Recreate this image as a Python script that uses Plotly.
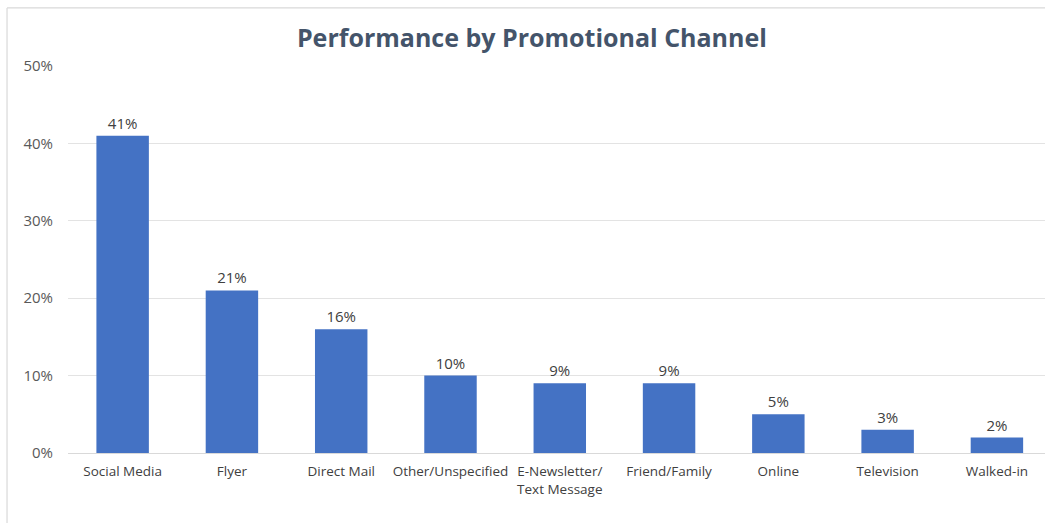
import plotly.graph_objects as go

channels = ["Social Media", "Flyer", "Direct Mail", "Other/Unspecified",
            "E-Newsletter/<br>Text Message", "Friend/Family", "Online",
            "Television", "Walked-in"]
shares = [0.41, 0.21, 0.16, 0.10, 0.09, 0.09, 0.05, 0.03, 0.02]
y_ticks = [0, 0.1, 0.2, 0.3, 0.4, 0.5]

FONT = "Open Sans, Lato, DejaVu Sans, sans-serif"

fig = go.Figure(go.Bar(
    x=channels,
    y=shares,
    marker=dict(color="#4472C4", line=dict(width=0)),
    text=[f"{v:.0%}" for v in shares],
    textposition="outside",
    textfont=dict(size=15, color="#404040", family=FONT),
    cliponaxis=False,
))

fig.update_layout(
    width=1045,
    height=523,
    margin=dict(l=68, r=0, t=66, b=70),
    paper_bgcolor="white",
    plot_bgcolor="white",
    showlegend=False,
    bargap=0.52,
    title=dict(
        text="<b>Performance by Promotional Channel</b>",
        x=0.509, xanchor="center",
        y=0.927, yanchor="middle",
        font=dict(size=25, color="#44546A", family=FONT),
    ),
    xaxis=dict(
        range=[-0.5, 8.44],
        showgrid=False,
        showline=True,
        linecolor="#d9d9d9",
        linewidth=1,
        ticks="",
        ticklabelstandoff=6,
        tickfont=dict(size=13.5, color="#404040", family=FONT),
        fixedrange=True,
    ),
    yaxis=dict(
        range=[0, 0.5],
        tickvals=y_ticks,
        tickformat=".0%",
        showgrid=True,
        gridcolor="#e3e3e3",
        gridwidth=1,
        zeroline=False,
        showline=False,
        ticks="",
        ticklabelstandoff=14,
        tickfont=dict(size=15, color="#595959", family=FONT),
        fixedrange=True,
    ),
    shapes=[
        # chart frame: left and top edges
        dict(type="line", xref="paper", yref="paper",
             x0=-0.0624, x1=-0.0624, y0=1.15, y1=-0.2,
             line=dict(color="#d9d9d9", width=1.2)),
        dict(type="line", xref="paper", yref="paper",
             x0=-0.0624, x1=1.01, y0=1.15, y1=1.15,
             line=dict(color="#d9d9d9", width=1.2)),
    ],
)

fig.write_html("out.html")
